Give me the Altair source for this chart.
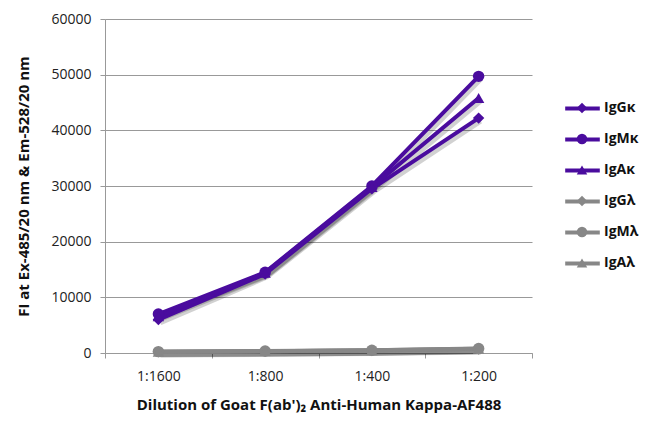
import altair as alt
import pandas as pd

dilutions = ["1:1600", "1:800", "1:400", "1:200"]
series = ["IgGκ", "IgMκ", "IgAκ", "IgGλ", "IgMλ", "IgAλ"]
values = {
    "IgGκ": [6000, 14200, 29500, 42200],
    "IgMκ": [7000, 14500, 30000, 49700],
    "IgAκ": [6600, 14400, 29800, 45800],
    "IgGλ": [200, 300, 450, 700],
    "IgMλ": [250, 350, 500, 800],
    "IgAλ": [220, 330, 480, 750],
}
colors = ["#4a0c9e", "#4a0c9e", "#4a0c9e", "#878787", "#878787", "#878787"]
shapes = ["diamond", "circle", "triangle-up", "diamond", "circle", "triangle-up"]

line_keys = [s + "_line" for s in series]
rows = []
for s, k in zip(series, line_keys):
    for d, v in zip(dilutions, values[s]):
        rows.append({"dilution": d, "series": s, "series_line": k, "value": v})
df = pd.DataFrame(rows)

FONT = "Open Sans"
LX, LY = 470, 82

x = alt.X("dilution:N", sort=dilutions, scale=alt.Scale(paddingInner=0, paddingOuter=0),
          axis=alt.Axis(title="Dilution of Goat F(ab')₂ Anti-Human Kappa-AF488", labelAngle=0,
                        tickBand="extent", labelFontSize=14, labelColor="#222", labelFont=FONT,
                        labelPadding=11, titleFont=FONT, titleFontSize=15, titleFontWeight="bold",
                        titleColor="#111", titlePadding=14, domainColor="#999", tickColor="#999",
                        tickSize=5, grid=False))
y = alt.Y("value:Q", scale=alt.Scale(domain=[0, 60000]),
          axis=alt.Axis(title="FI at Ex-485/20 nm & Em-528/20 nm", values=list(range(0, 60001, 10000)),
                        format="d",
                        labelFontSize=14, labelColor="#222", labelFont=FONT, labelPadding=9,
                        titleFont=FONT, titleFontSize=15, titleFontWeight="bold", titleColor="#111",
                        titleX=-74, titleY=167, domainColor="#999", tickColor="#999", tickSize=5,
                        gridColor="#999", gridWidth=1))

stroke = alt.Stroke("series_line:N", sort=line_keys, scale=alt.Scale(domain=line_keys, range=colors),
                    legend=alt.Legend(title=None, orient="none", legendX=LX, legendY=LY,
                                      symbolType="M-3.3,0L3.3,0", symbolSize=110, symbolStrokeWidth=4,
                                      rowPadding=14, labelOpacity=0, labelFontSize=14,
                                      labelFontWeight="bold",
                                      labelFont=FONT, labelOffset=15, zindex=0))
common_legend = dict(title=None, orient="none", legendX=LX, legendY=LY,
                     symbolSize=110, symbolStrokeWidth=0, symbolOpacity=1,
                     rowPadding=17, labelFontSize=14, labelFontWeight="bold",
                     labelFont=FONT, labelColor="#111", labelOffset=15, zindex=1)
color = alt.Color("series:N", sort=series, scale=alt.Scale(domain=series, range=colors),
                  legend=alt.Legend(**common_legend))
shape = alt.Shape("series:N", sort=series, scale=alt.Scale(domain=series, range=shapes),
                  legend=alt.Legend(**common_legend))

base = alt.Chart(df)
shadow = base.mark_line(strokeWidth=5, color="#000", opacity=0.18, xOffset=2, yOffset=3).encode(
    x=x, y=y, detail="series:N")
lines = base.mark_line(strokeWidth=4).encode(x=x, y=y, stroke=stroke)
points = base.mark_point(filled=True, size=130, opacity=1).encode(x=x, y=y, color=color, shape=shape)

chart = alt.layer(shadow, lines, points).properties(
    width=427, height=334, autosize=alt.AutoSizeParams(type="none"),
    padding={"left": 97, "top": 11, "right": 110, "bottom": 62}
).configure_view(stroke=None)

chart.save("out.html", embed_options={"renderer": "svg", "actions": False})
